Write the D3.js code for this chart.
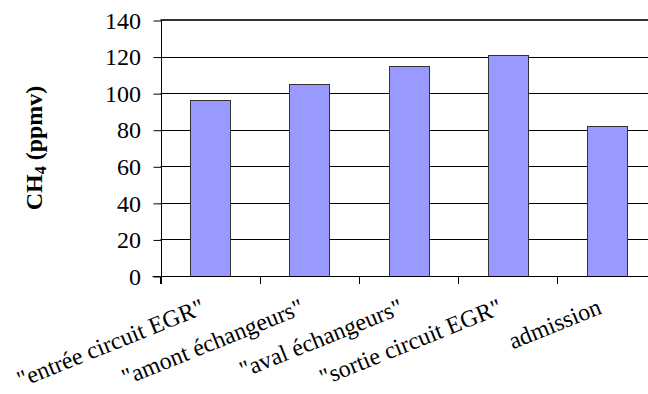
<!DOCTYPE html>
<html>
<head>
<meta charset="utf-8">
<script src="https://cdn.jsdelivr.net/npm/d3@7"></script>
<style>
  html, body { margin: 0; padding: 0; background: #fff; }
  svg { display: block; }
</style>
</head>
<body>
<div id="chart"></div>
<script>
const categories = ['"entrée circuit EGR"', '"amont échangeurs"', '"aval échangeurs"', '"sortie circuit EGR"', 'admission'];
const values = [96, 105, 115, 121, 82];
const yTicks = [0, 20, 40, 60, 80, 100, 120, 140];

const W = 648, H = 394;
const pLeft = 160.5, pRight = 656.5, pTop = 20, pBottom = 276;
const FONT = '"Liberation Serif", "Times New Roman", serif';

const svg = d3.select('#chart').append('svg').attr('width', W).attr('height', H);

const x = d3.scaleBand().domain(categories).range([pLeft, pRight]).paddingInner(0.6).paddingOuter(0.3);
const y = d3.scaleLinear().domain([0, 140]).range([pBottom, pTop]);

const crisp = v => Math.round(v) + 0.5;

// gridlines
svg.append('g').selectAll('line').data(yTicks.filter(d => d > 0 && d < 140)).join('line')
  .attr('x1', pLeft).attr('x2', W)
  .attr('y1', d => crisp(y(d))).attr('y2', d => crisp(y(d)))
  .attr('stroke', '#000').attr('stroke-width', 1);
// top border
svg.append('line').attr('x1', pLeft).attr('x2', W)
  .attr('y1', y(140)).attr('y2', y(140))
  .attr('stroke', '#333').attr('stroke-width', 2);

// bars
svg.append('g').selectAll('rect').data(values).join('rect')
  .attr('x', (d, i) => crisp(x(categories[i])))
  .attr('y', d => crisp(y(d)))
  .attr('width', Math.round(x.bandwidth()))
  .attr('height', d => crisp(y(0)) - crisp(y(d)))
  .attr('fill', '#9999ff')
  .attr('stroke', '#333').attr('stroke-width', 1);

// y axis
const yAxis = d3.axisLeft(y).tickValues(yTicks).tickSize(8).tickPadding(12).tickFormat(d3.format('d'));
const gy = svg.append('g').attr('transform', `translate(${crisp(pLeft) - 0.5},0)`).call(yAxis);
gy.select('.domain').remove();
gy.selectAll('.tick line').attr('stroke', '#000').attr('transform', 'translate(0.5,0.5)');
gy.selectAll('.tick text')
  .style('font-family', FONT).style('font-size', '24px')
  .attr('fill', '#000').attr('dy', '0.34em');
svg.append('line').attr('x1', crisp(pLeft)).attr('x2', crisp(pLeft))
  .attr('y1', pTop).attr('y2', pBottom + 8).attr('stroke', '#000');

// x axis line and boundary ticks
svg.append('line').attr('x1', pLeft - 8).attr('x2', W)
  .attr('y1', crisp(y(0))).attr('y2', crisp(y(0))).attr('stroke', '#000');
const gap = (x.step() - x.bandwidth()) / 2;
const bounds = categories.map(c => x(c) - gap).concat([x(categories[categories.length - 1]) + x.bandwidth() + gap]);
svg.append('g').selectAll('line').data(bounds).join('line')
  .attr('x1', d => crisp(d)).attr('x2', d => crisp(d))
  .attr('y1', y(0)).attr('y2', y(0) + 8)
  .attr('stroke', '#000');

// category labels
svg.append('g').selectAll('text').data(categories).join('text')
  .attr('transform', c => `translate(${x(c) + x.bandwidth() / 2 - 4},313) rotate(-22)`)
  .attr('text-anchor', 'end')
  .style('font-family', FONT).style('font-size', '24px')
  .attr('fill', '#000')
  .text(c => c);

// y title
const t = svg.append('text')
  .attr('transform', `translate(42,${(pTop + pBottom) / 2}) rotate(-90)`)
  .attr('text-anchor', 'middle')
  .style('font-family', FONT).style('font-size', '24px').style('font-weight', 'bold')
  .attr('fill', '#000');
t.append('tspan').text('CH');
t.append('tspan').style('font-size', '16px').attr('dy', 4).text('4');
t.append('tspan').attr('dy', -4).text(' (ppmv)');
</script>
</body>
</html>
